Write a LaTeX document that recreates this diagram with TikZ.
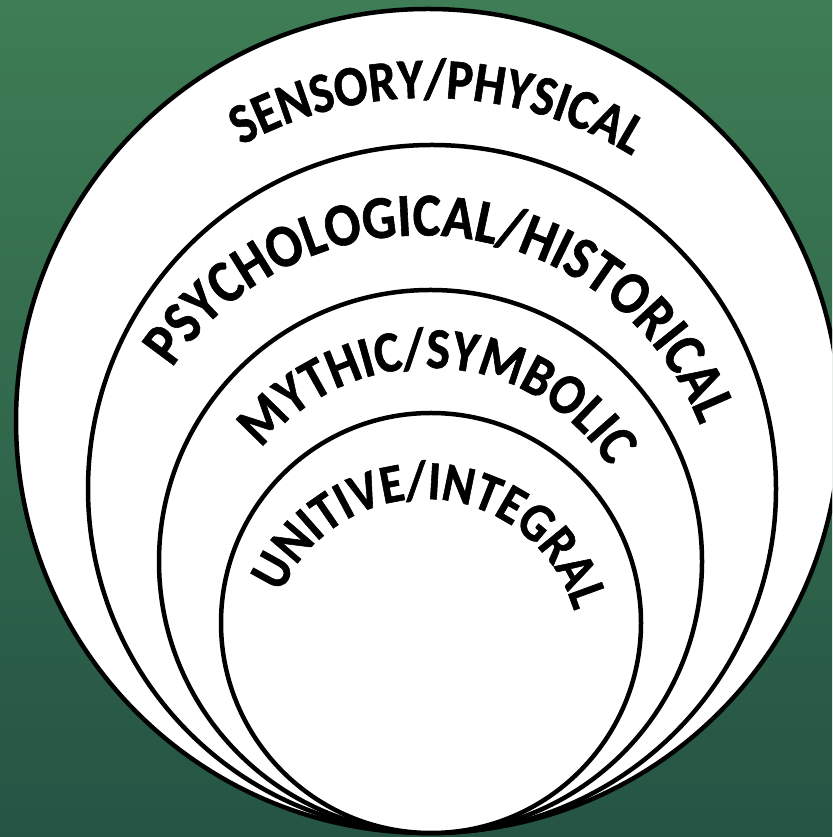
\documentclass[tikz,border=0pt]{standalone}
\usepackage{fontspec}
\setmainfont{Carlito}
\newfontfamily\arcfont{Carlito}[FakeStretch=0.87, FakeBold=1]
\usepackage{tikz}
\usetikzlibrary{decorations.text}
\definecolor{bgtop}{RGB}{62,125,85}
\definecolor{bgbot}{RGB}{37,84,68}
\tikzset{
  ring/.style={draw=black, fill=white, line width=4.5pt},
  arclabel/.style n args={2}{decorate, decoration={text along path, text align=center,
    text={|\fontsize{#1}{#1}\arcfont\bfseries|#2}}}
}

\begin{document}
\begin{tikzpicture}[x=1pt, y=1pt]
\useasboundingbox (0,0) rectangle (832,837);
\clip (0,0) rectangle (832,837);
\shade[top color=bgtop, bottom color=bgbot] (0,0) rectangle (832,837);
\coordinate (o1) at (428,416);
\coordinate (o2) at (432,348);
\coordinate (o3) at (430.5,275.5);
\coordinate (o4) at (431,214);
\draw[ring] (o1) circle[radius=412pt];
\draw[ring] (o2) circle[radius=344pt];
\draw[ring] (o3) circle[radius=271.5pt];
\draw[ring] (o4) circle[radius=210pt];
\coordinate (t1) at (427.7,350.2);
\coordinate (t2) at (421,301.5);
\coordinate (t3) at (428.9,255.2);
\coordinate (t4) at (424.4,182);
\path[arclabel={57}{SENSORY/PHYSICAL}] ([shift={(128.5:388.9pt)}]t1) arc[start angle=128.5, end angle=48.5, radius=388.9pt];
\path[arclabel={61}{PSYCHOLOGICAL/HISTORICAL}] ([shift={(153.8:300pt)}]t2) arc[start angle=153.8, end angle=13.8, radius=300pt];
\path[arclabel={58}{MYTHIC/SYMBOLIC}] ([shift={(149:213.8pt)}]t3) arc[start angle=149, end angle=25, radius=213.8pt];
\path[arclabel={55}{UNITIVE/INTEGRAL}] ([shift={(165.5:156pt)}]t4) arc[start angle=165.5, end angle=7.5, radius=156pt];
\end{tikzpicture}
\end{document}
